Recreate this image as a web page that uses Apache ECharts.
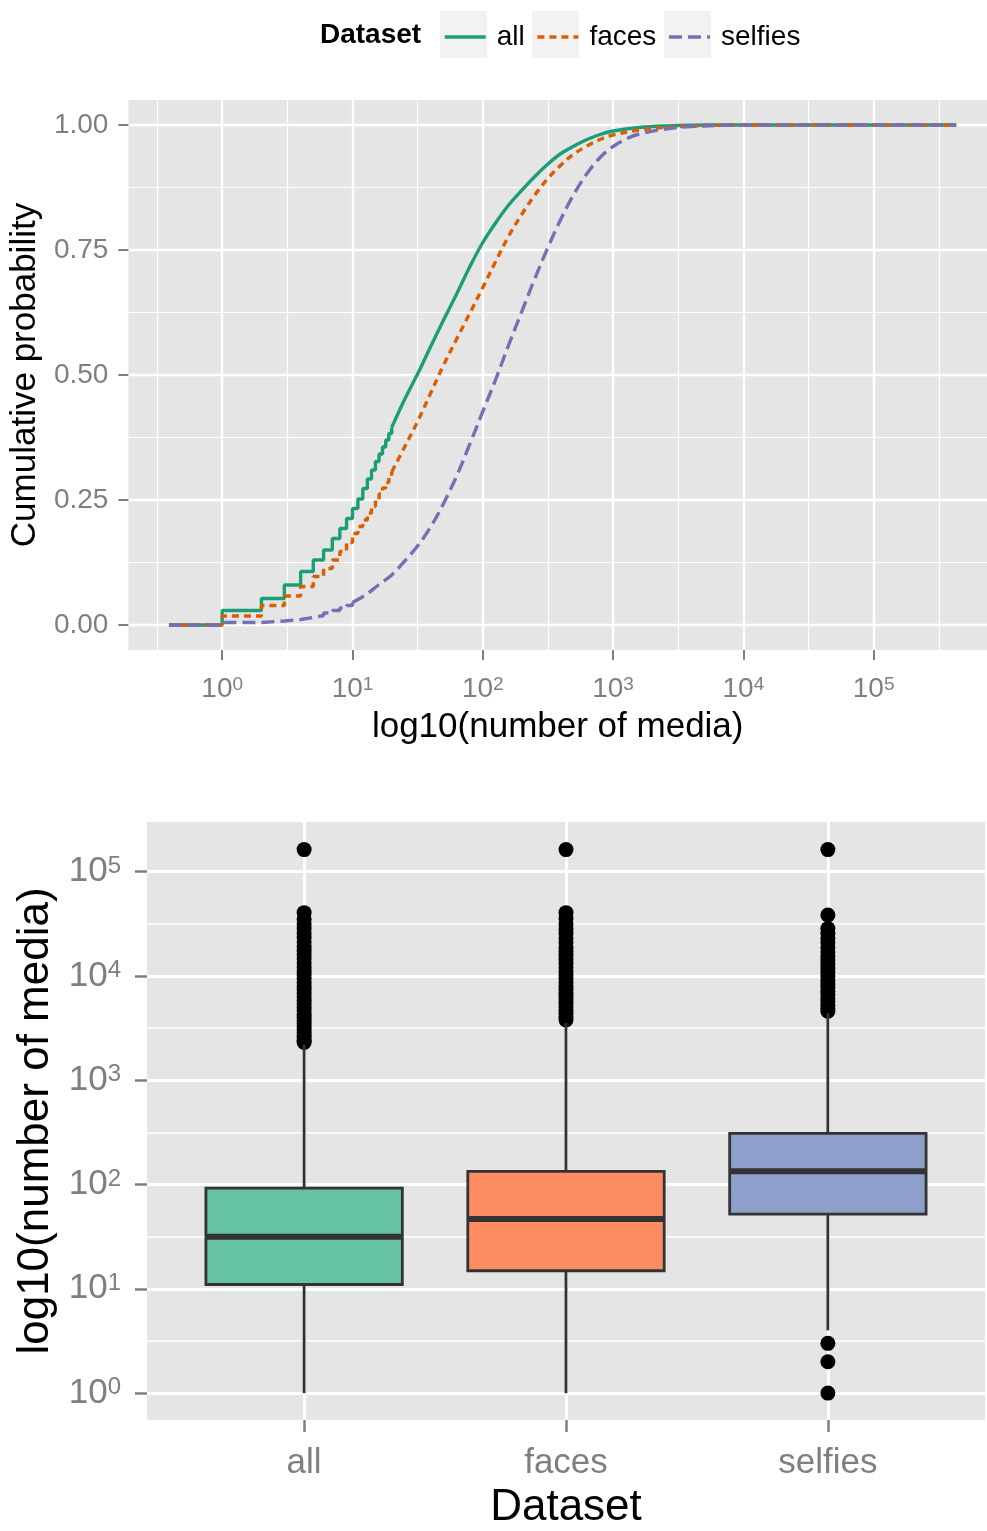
<!DOCTYPE html>
<html>
<head>
<meta charset="utf-8">
<script src="https://cdn.jsdelivr.net/npm/echarts@6.0.0/dist/echarts.min.js"></script>
<style>
  html, body { margin: 0; padding: 0; background: #ffffff; }
  #chart { width: 987px; height: 1531px; }
</style>
</head>
<body>
<div id="chart"></div>
<script>
// ---------- data ----------
const datasets = ['all', 'faces', 'selfies'];

// Empirical CDF of the number of media per user.
// Low counts are integer steps; above them the curve is dense enough to read as smooth.
const allStepCounts = [0.39, 1, 2, 3, 4, 5, 6, 7, 8, 9, 10, 11, 12, 13, 14, 15, 16, 17, 18, 19, 20];
const allStepProb   = [0, 0.029, 0.053, 0.080, 0.107, 0.130, 0.150, 0.173, 0.193, 0.213, 0.233, 0.252, 0.273, 0.292, 0.310, 0.327, 0.342, 0.356, 0.370, 0.383, 0.395];
const allCurveCounts = [20, 25, 32, 40, 50, 63, 79, 100, 126, 158, 200, 251, 316, 398, 501, 631, 794, 1000, 1585, 2512, 5000, 430000];
const allCurveProb   = [0.395, 0.450, 0.505, 0.558, 0.610, 0.662, 0.715, 0.765, 0.805, 0.840, 0.870, 0.897, 0.922, 0.943, 0.958, 0.971, 0.981, 0.988, 0.995, 0.998, 1, 1];

const facesStepCounts = [0.39, 1, 2, 3, 4, 5, 6, 7, 8, 9, 10, 11, 12, 13, 14, 15, 16, 17, 18, 19, 20];
const facesStepProb   = [0, 0.018, 0.039, 0.058, 0.077, 0.097, 0.113, 0.130, 0.147, 0.165, 0.183, 0.197, 0.210, 0.224, 0.237, 0.250, 0.262, 0.274, 0.285, 0.296, 0.306];
const facesCurveCounts = [20, 25, 32, 40, 50, 63, 79, 100, 126, 158, 200, 251, 316, 398, 501, 631, 794, 1000, 1585, 2512, 5000, 10000, 430000];
const facesCurveProb   = [0.306, 0.355, 0.410, 0.465, 0.520, 0.572, 0.622, 0.675, 0.728, 0.778, 0.822, 0.860, 0.893, 0.920, 0.942, 0.958, 0.971, 0.980, 0.990, 0.995, 0.999, 1, 1];

const selfiesStepCounts = [0.39, 1, 2, 3, 4, 5, 6, 7, 8, 9, 10];
const selfiesStepProb   = [0, 0.005, 0.008, 0.011, 0.015, 0.019, 0.024, 0.029, 0.034, 0.039, 0.045];
const selfiesCurveCounts = [10, 12.6, 15.8, 20, 25, 32, 40, 50, 63, 79, 100, 126, 158, 200, 251, 316, 398, 501, 631, 794, 1000, 1259, 1585, 2512, 3981, 10000, 430000];
const selfiesCurveProb   = [0.045, 0.060, 0.080, 0.100, 0.127, 0.160, 0.197, 0.243, 0.298, 0.360, 0.427, 0.492, 0.560, 0.628, 0.693, 0.755, 0.812, 0.862, 0.903, 0.935, 0.957, 0.972, 0.982, 0.992, 0.997, 1, 1];

// Box plot summaries (number of media), one entry per dataset
const whiskerLow  = [1, 1, 4];
const quartile1   = [11, 14.9, 52];
const medians     = [31.5, 46.8, 134];
const quartile3   = [92.4, 134, 309];
const whiskerHigh = [2200, 3550, 4400];

const outliersAll = [2300, 2420, 2560, 2700, 2880, 3050, 3260, 3480, 3720, 4000, 4300, 4650, 5000, 5400, 5850, 6300, 6850, 7400, 8000, 8700, 9500, 10300, 11200, 12200, 13300, 14600, 16000, 17500, 19300, 21200, 23400, 25800, 28500, 31500, 35000, 40500, 163000];
const outliersFaces = [3800, 4050, 4350, 4700, 5050, 5450, 5900, 6350, 6850, 7400, 8000, 8700, 9400, 10200, 11100, 12100, 13200, 14400, 15700, 17200, 18900, 20800, 23000, 25500, 28300, 31500, 35500, 40500, 163000];
const outliersSelfies = [1, 2, 3, 4600, 4900, 5250, 5650, 6100, 6600, 7150, 7750, 8400, 9100, 9900, 10800, 11800, 12900, 14100, 15500, 17000, 18800, 20800, 23000, 25500, 28500, 38500, 163000];

// Tick positions (log10 units for the media axes)
const decadeTicks = [0, 1, 2, 3, 4, 5];
const halfDecadeTicks = [-0.5, 0.5, 1.5, 2.5, 3.5, 4.5, 5.5];
const probTicks = [0, 0.25, 0.5, 0.75, 1];
const probMinorTicks = [0.125, 0.375, 0.625, 0.875];
const categoryTicks = [1, 2, 3];

// ---------- styling ----------
const FONT = '"Liberation Sans", Arial, Helvetica, sans-serif';
const lineColors = ['#1b9e77', '#d95f02', '#7570b3'];
const lineDashes = ['solid', [7, 5], [13, 6]];
const boxFills = ['#66c2a5', '#fc8d62', '#8da0cb'];
const TICK_GREY = '#7f7f7f';
const PANEL = '#e5e5e5';

const stepCounts = [allStepCounts, facesStepCounts, selfiesStepCounts];
const stepProbs = [allStepProb, facesStepProb, selfiesStepProb];
const curveCounts = [allCurveCounts, facesCurveCounts, selfiesCurveCounts];
const curveProbs = [allCurveProb, facesCurveProb, selfiesCurveProb];
const outlierLists = [outliersAll, outliersFaces, outliersSelfies];

const toPairs = (counts, probs) => counts.map((c, i) => [Math.log10(c), probs[i]]);

const powerLabel = (v) => '{b|10}{s|' + Math.round(v) + '}';

// ---------- series ----------
const series = [];
datasets.forEach((name, i) => {
  const common = {
    name: name,
    type: 'line',
    xAxisIndex: 0,
    yAxisIndex: 0,
    symbol: 'none',
    color: lineColors[i],
    lineStyle: { color: lineColors[i], width: 3.4, type: lineDashes[i] },
    z: 3 + i,
    silent: true
  };
  series.push(Object.assign({}, common, { step: 'end', data: toPairs(stepCounts[i], stepProbs[i]) }));
  series.push(Object.assign({}, common, { smooth: 0.35, data: toPairs(curveCounts[i], curveProbs[i]) }));
});

const outlierPoints = [];
outlierLists.forEach((list, i) => list.forEach(v => outlierPoints.push([i + 1, Math.log10(v)])));

series.push({
  name: 'outliers',
  type: 'scatter',
  xAxisIndex: 2,
  yAxisIndex: 2,
  symbol: 'circle',
  symbolSize: 15,
  itemStyle: { color: '#000000', opacity: 1 },
  z: 2,
  silent: true,
  data: outlierPoints
});

const BOX_HALF = 0.375;
series.push({
  name: 'boxes',
  type: 'custom',
  xAxisIndex: 2,
  yAxisIndex: 2,
  z: 3,
  silent: true,
  encode: { x: 0, y: [1, 2, 3, 4, 5] },
  data: datasets.map((d, i) => [i + 1,
    Math.log10(whiskerLow[i]), Math.log10(quartile1[i]), Math.log10(medians[i]),
    Math.log10(quartile3[i]), Math.log10(whiskerHigh[i])]),
  renderItem: function (params, api) {
    const x = api.value(0);
    const lo = api.value(1), q1 = api.value(2), med = api.value(3), q3 = api.value(4), hi = api.value(5);
    const tl = api.coord([x - BOX_HALF, q3]);
    const br = api.coord([x + BOX_HALF, q1]);
    const mL = api.coord([x - BOX_HALF, med]);
    const mR = api.coord([x + BOX_HALF, med]);
    const pHi = api.coord([x, hi]);
    const pQ3 = api.coord([x, q3]);
    const pQ1 = api.coord([x, q1]);
    const pLo = api.coord([x, lo]);
    const stroke = '#333333';
    return {
      type: 'group',
      children: [
        { type: 'line', shape: { x1: pQ3[0], y1: pQ3[1], x2: pHi[0], y2: pHi[1] }, style: { stroke: stroke, lineWidth: 2.8 } },
        { type: 'line', shape: { x1: pQ1[0], y1: pQ1[1], x2: pLo[0], y2: pLo[1] }, style: { stroke: stroke, lineWidth: 2.8 } },
        { type: 'rect', shape: { x: tl[0], y: tl[1], width: br[0] - tl[0], height: br[1] - tl[1] },
          style: { fill: boxFills[params.dataIndex], stroke: stroke, lineWidth: 2.8 } },
        { type: 'line', shape: { x1: mL[0], y1: mL[1], x2: mR[0], y2: mR[1] }, style: { stroke: stroke, lineWidth: 6 } }
      ]
    };
  }
});

// ---------- axes ----------
function majorAxis(extra) {
  return Object.assign({
    type: 'value',
    axisLine: { show: false, onZero: false },
    splitLine: { show: true, lineStyle: { color: '#ffffff', width: 2.4 } },
    minorSplitLine: { show: false }
  }, extra);
}
function minorAxis(extra, width) {
  return Object.assign({
    type: 'value',
    axisLine: { show: false, onZero: false },
    axisLabel: { show: false },
    splitLine: { show: true, lineStyle: { color: '#ffffff', width: width } }
  }, extra);
}

const xAxes = [
  // top panel: log10 media, major decades
  majorAxis({
    gridIndex: 0, min: -0.72, max: 5.87, position: 'bottom',
    axisTick: { show: true, length: 10, lineStyle: { color: TICK_GREY, width: 2 }, customValues: decadeTicks },
    axisLabel: {
      customValues: decadeTicks, margin: 25, formatter: powerLabel,
      rich: {
        b: { fontSize: 28, color: TICK_GREY, fontFamily: FONT },
        s: { fontSize: 19, color: TICK_GREY, fontFamily: FONT, verticalAlign: 'top' }
      }
    },
    name: 'log10(number of media)', nameLocation: 'middle', nameGap: 60,
    nameTextStyle: { fontSize: 35, color: '#000000', fontFamily: FONT }
  }),
  // top panel: half-decade minor grid
  minorAxis({ gridIndex: 0, min: -0.72, max: 5.87, position: 'top',
    axisTick: { show: false, customValues: halfDecadeTicks } }, 1.2),
  // bottom panel: dataset positions
  majorAxis({
    gridIndex: 1, min: 0.4, max: 3.6, position: 'bottom',
    splitLine: { show: true, lineStyle: { color: '#ffffff', width: 3 } },
    axisTick: { show: true, length: 12, lineStyle: { color: TICK_GREY, width: 2.5 }, customValues: categoryTicks },
    axisLabel: {
      customValues: categoryTicks, margin: 26,
      formatter: (v) => datasets[Math.round(v) - 1],
      fontSize: 35, color: TICK_GREY, fontFamily: FONT
    },
    name: 'Dataset', nameLocation: 'middle', nameGap: 66,
    nameTextStyle: { fontSize: 44, color: '#000000', fontFamily: FONT }
  })
];

const yAxes = [
  majorAxis({
    gridIndex: 0, min: -0.05, max: 1.05,
    axisTick: { show: true, length: 10, lineStyle: { color: TICK_GREY, width: 2 }, customValues: probTicks },
    axisLabel: {
      customValues: probTicks, margin: 20, formatter: (v) => v.toFixed(2),
      fontSize: 28, color: TICK_GREY, fontFamily: FONT
    },
    name: 'Cumulative probability', nameLocation: 'middle', nameGap: 82, nameRotate: 90,
    nameTextStyle: { fontSize: 35, color: '#000000', fontFamily: FONT }
  }),
  minorAxis({ gridIndex: 0, min: -0.05, max: 1.05, position: 'right',
    axisTick: { show: false, customValues: probMinorTicks } }, 1.2),
  majorAxis({
    gridIndex: 1, min: -0.258, max: 5.477,
    splitLine: { show: true, lineStyle: { color: '#ffffff', width: 3 } },
    axisTick: { show: true, length: 12, lineStyle: { color: TICK_GREY, width: 2.5 }, customValues: decadeTicks },
    axisLabel: {
      customValues: decadeTicks, margin: 26, formatter: powerLabel,
      rich: {
        b: { fontSize: 35, color: TICK_GREY, fontFamily: FONT },
        s: { fontSize: 24, color: TICK_GREY, fontFamily: FONT, verticalAlign: 'top' }
      }
    },
    name: 'log10(number of media)', nameLocation: 'middle', nameGap: 80, nameRotate: 90,
    nameTextStyle: { fontSize: 44, color: '#000000', fontFamily: FONT }
  }),
  minorAxis({ gridIndex: 1, min: -0.258, max: 5.477, position: 'right',
    axisTick: { show: false, customValues: halfDecadeTicks } }, 1.5)
];

// ---------- chart ----------
const chart = echarts.init(document.getElementById('chart'), null, { renderer: 'canvas' });
chart.setOption({
  animation: false,
  backgroundColor: '#ffffff',
  textStyle: { fontFamily: FONT },
  title: {
    text: 'Dataset', left: 320, top: 21, padding: 0,
    textStyle: { fontSize: 28, fontWeight: 'bold', color: '#000000', fontFamily: FONT }
  },
  legend: {
    data: datasets,
    left: 443, top: 23, padding: 0,
    itemWidth: 41, itemHeight: 20, itemGap: 11,
    selectedMode: false,
    itemStyle: { opacity: 0 },
    lineStyle: { width: 3.4 },
    textStyle: { fontSize: 28, color: '#000000', fontFamily: FONT, padding: [0, 0, 0, 6] }
  },
  graphic: [
    { type: 'rect', shape: { x: 440, y: 11, width: 47, height: 47 }, style: { fill: '#f2f2f2' }, z: -1 },
    { type: 'rect', shape: { x: 532, y: 11, width: 47, height: 47 }, style: { fill: '#f2f2f2' }, z: -1 },
    { type: 'rect', shape: { x: 664, y: 11, width: 47, height: 47 }, style: { fill: '#f2f2f2' }, z: -1 }
  ],
  grid: [
    { left: 127, top: 100, width: 860, height: 550, show: true, backgroundColor: PANEL, borderWidth: 0 },
    { left: 147, top: 822, width: 838, height: 601, show: true, backgroundColor: PANEL, borderWidth: 0 }
  ],
  xAxis: xAxes,
  yAxis: yAxes,
  series: series
});
</script>
</body>
</html>
